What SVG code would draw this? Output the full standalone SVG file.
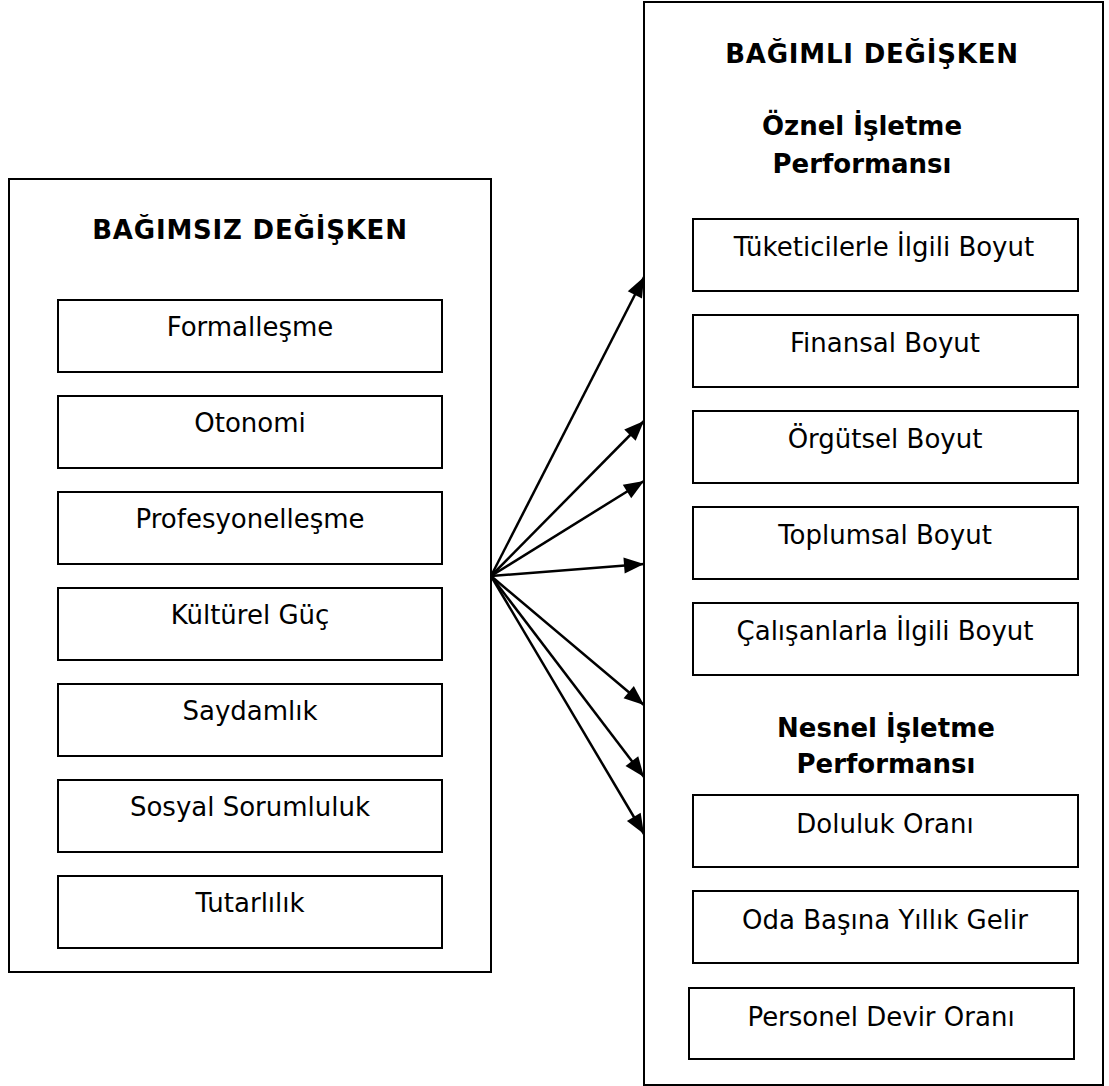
<svg xmlns="http://www.w3.org/2000/svg" width="1109" height="1086" viewBox="0 0 1109 1086">
<defs>
<style>
.box{fill:#fff;stroke:#000;stroke-width:2}
.t{font-family:"DejaVu Sans","Verdana",sans-serif;font-size:26px;fill:#000;text-anchor:middle}
.b{font-family:"DejaVu Sans","Verdana",sans-serif;font-size:26px;font-weight:bold;fill:#000;text-anchor:middle}
.c{stroke:#000;stroke-width:2.5;fill:none;marker-end:url(#ah)}
</style>
<marker id="ah" markerUnits="userSpaceOnUse" markerWidth="22" markerHeight="18" refX="20" refY="8" orient="auto" overflow="visible">
<path d="M0,0 L20,8 L0,16 Z" fill="#000"/>
</marker>
</defs>
<rect width="1109" height="1086" fill="#fff"/>
<g id="independent">
<rect class="box" x="9" y="179" width="482" height="793"/>
<text class="b" x="250" y="239" letter-spacing="0.8">BAĞIMSIZ DEĞİŞKEN</text>
</g>
<g id="formallesme"><rect class="box" x="58" y="300" width="384" height="72"/><text class="t" x="250" y="336">Formalleşme</text></g>
<g id="otonomi"><rect class="box" x="58" y="396" width="384" height="72"/><text class="t" x="250" y="432">Otonomi</text></g>
<g id="profesyonellesme"><rect class="box" x="58" y="492" width="384" height="72"/><text class="t" x="250" y="528">Profesyonelleşme</text></g>
<g id="kulturel-guc"><rect class="box" x="58" y="588" width="384" height="72"/><text class="t" x="250" y="624">Kültürel Güç</text></g>
<g id="saydamlik"><rect class="box" x="58" y="684" width="384" height="72"/><text class="t" x="250" y="720">Saydamlık</text></g>
<g id="sosyal-sorumluluk"><rect class="box" x="58" y="780" width="384" height="72"/><text class="t" x="250" y="816">Sosyal Sorumluluk</text></g>
<g id="tutarlilik"><rect class="box" x="58" y="876" width="384" height="72"/><text class="t" x="250" y="912">Tutarlılık</text></g>
<g id="dependent">
<rect class="box" x="644" y="2" width="459" height="1083"/>
<text class="b" x="872" y="63" letter-spacing="0.8">BAĞIMLI DEĞİŞKEN</text>
<text class="b" x="862" y="135">Öznel İşletme</text>
<text class="b" x="862" y="173">Performansı</text>
<text class="b" x="886" y="737">Nesnel İşletme</text>
<text class="b" x="886" y="773">Performansı</text>
</g>
<g id="tuketiciler"><rect class="box" x="693" y="219" width="385" height="72"/><text class="t" x="884" y="256">Tüketicilerle İlgili Boyut</text></g>
<g id="finansal"><rect class="box" x="693" y="315" width="385" height="72"/><text class="t" x="885" y="352">Finansal Boyut</text></g>
<g id="orgutsel"><rect class="box" x="693" y="411" width="385" height="72"/><text class="t" x="885" y="448">Örgütsel Boyut</text></g>
<g id="toplumsal"><rect class="box" x="693" y="507" width="385" height="72"/><text class="t" x="885" y="544">Toplumsal Boyut</text></g>
<g id="calisanlar"><rect class="box" x="693" y="603" width="385" height="72"/><text class="t" x="885" y="640">Çalışanlarla İlgili Boyut</text></g>
<g id="doluluk"><rect class="box" x="693" y="795" width="385" height="72"/><text class="t" x="885" y="833">Doluluk Oranı</text></g>
<g id="oda-basina"><rect class="box" x="693" y="891" width="385" height="72"/><text class="t" x="885" y="929">Oda Başına Yıllık Gelir</text></g>
<g id="personel-devir"><rect class="box" x="689" y="988" width="385" height="71"/><text class="t" x="881" y="1026">Personel Devir Oranı</text></g>
<g id="connectors">
<line class="c" x1="491" y1="576" x2="644" y2="277"/>
<line class="c" x1="491" y1="576" x2="644" y2="421"/>
<line class="c" x1="491" y1="576" x2="644" y2="481"/>
<line class="c" x1="491" y1="576" x2="644" y2="564"/>
<line class="c" x1="491" y1="576" x2="644" y2="705"/>
<line class="c" x1="491" y1="576" x2="644" y2="777"/>
<line class="c" x1="491" y1="576" x2="644" y2="834"/>
</g>
</svg>
